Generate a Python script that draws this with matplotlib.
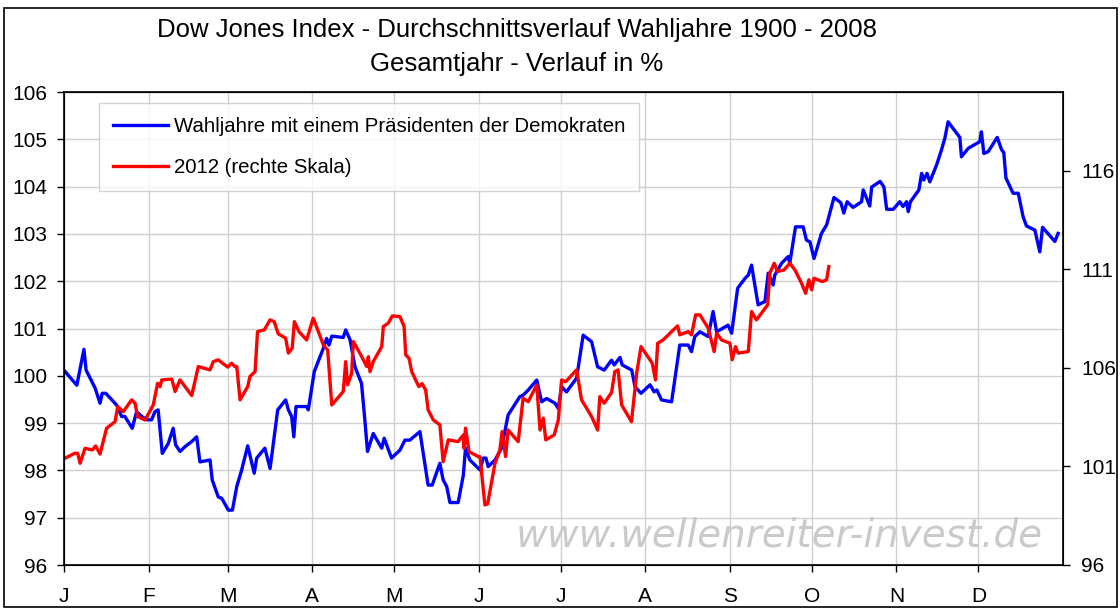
"""
Dow Jones Wahljahre - Durchschnittsverlauf vs. 2012
"""

import matplotlib
matplotlib.use("Agg")
import matplotlib.pyplot as plt
from matplotlib.patches import Rectangle

matplotlib.rcParams['font.family'] = ['Liberation Sans', 'DejaVu Sans']

# Tag im Jahr (Schaltjahr) und Wert in %
blue_days = [0.4, 4.7, 7.3, 8.1, 11.4, 13.2, 14.0, 15.3, 19.3, 21.1, 22.3, 25.0, 26.6, 28.5,
             30.3, 32.1, 33.3, 34.5, 36.0, 38.2, 40.0, 40.9, 42.5, 44.3, 46.8, 48.6, 49.8,
             53.5, 54.3, 56.5, 57.8, 60.2, 61.7, 63.3, 65.1, 67.3, 69.7, 70.6, 73.6, 75.5,
             78.3, 81.2, 82.2, 83.4, 84.2, 85.0, 88.9, 89.5, 91.7, 95.0, 96.2, 97.1, 98.1,
             102.3, 103.2, 104.8, 106.6, 109.0, 110.0, 111.2, 113.3, 116.4, 117.3, 120.0,
             123.1, 124.9, 126.7, 130.4, 133.4, 134.9, 137.7, 138.9, 140.2, 141.4, 144.4,
             146.3, 147.1, 148.7, 152.4, 153.6, 154.6, 155.4, 157.9, 160.3, 162.7, 167.0,
             168.2, 170.1, 173.2, 175.0, 176.8, 179.9, 181.1, 182.3, 184.1, 187.8, 190.2,
             193.3, 195.5, 197.9, 200.6, 201.6, 203.7, 204.5, 208.0, 209.2, 211.4, 214.7,
             216.2, 217.2, 218.9, 222.6, 225.6, 228.7, 229.9, 231.1, 233.0, 236.0, 237.8,
             239.1, 243.3, 244.6, 246.8, 249.5, 250.7, 251.9, 254.3, 256.8, 258.0, 259.8,
             260.4, 262.9, 265.3, 265.9, 268.0, 270.8, 272.0, 273.3, 274.8, 277.5, 279.4,
             282.1, 284.6, 285.7, 286.9, 289.1, 292.2, 292.8, 295.2, 295.9, 299.0, 300.4,
             301.4, 303.8, 306.2, 307.4, 308.7, 309.3, 310.1, 312.3, 313.2, 314.2, 315.0,
             316.2, 317.2, 319.7, 321.5, 322.7, 323.9, 328.2, 328.8, 331.3, 335.5, 336.1,
             337.0, 338.6, 341.9, 343.5, 344.3, 345.1, 347.7, 349.6, 351.4, 352.6, 355.7,
             357.5, 358.5, 363.0, 364.2]
blue_vals = [100.09, 99.80, 100.56, 100.12, 99.74, 99.42, 99.63, 99.63, 99.38, 99.14, 99.14,
             98.89, 99.24, 99.14, 99.07, 99.07, 99.24, 99.28, 98.36, 98.57, 98.89, 98.54,
             98.40, 98.50, 98.61, 98.71, 98.18, 98.22, 97.80, 97.44, 97.41, 97.16, 97.16,
             97.66, 98.01, 98.52, 97.94, 98.26, 98.47, 98.04, 99.28, 99.49, 99.28, 99.14,
             98.71, 99.35, 99.35, 99.28, 100.09, 100.58, 100.79, 100.65, 100.84, 100.81,
             100.97, 100.76, 100.19, 99.84, 99.21, 98.40, 98.78, 98.47, 98.68, 98.26, 98.43,
             98.64, 98.64, 98.82, 97.69, 97.69, 98.15, 97.80, 97.66, 97.32, 97.32, 97.90,
             98.47, 98.22, 98.01, 98.26, 98.26, 98.08, 98.22, 98.47, 99.17, 99.56, 99.59,
             99.70, 99.91, 99.45, 99.52, 99.42, 99.31, 99.77, 99.66, 99.95, 100.86, 100.72,
             100.19, 100.12, 100.33, 100.23, 100.39, 100.23, 100.12, 99.77, 99.63, 99.81,
             99.66, 99.70, 99.49, 99.45, 100.65, 100.65, 100.51, 100.83, 100.93, 100.83,
             101.36, 100.93, 101.07, 100.90, 101.85, 102.06, 102.13, 102.34, 101.50, 101.57,
             102.17, 101.92, 102.13, 102.38, 102.52, 102.38, 103.15, 103.15, 102.87, 102.83,
             102.48, 103.01, 103.19, 103.77, 103.66, 103.44, 103.68, 103.56, 103.68, 103.93,
             103.59, 103.99, 104.11, 103.99, 103.52, 103.52, 103.68, 103.58, 103.68, 103.47,
             103.68, 103.86, 103.93, 104.28, 104.14, 104.28, 104.10, 104.46, 104.78, 105.02,
             105.37, 105.04, 104.63, 104.81, 104.95, 105.16, 104.70, 104.74, 105.04, 104.78,
             104.72, 104.18, 103.86, 103.86, 103.36, 103.17, 103.08, 102.62, 103.14, 102.84,
             103.01]

red_days = [0.4, 4.0, 5.0, 5.9, 7.7, 10.4, 11.6, 13.2, 15.6, 18.7, 19.7, 21.7, 24.8, 26.0,
            27.0, 29.7, 32.7, 34.3, 35.2, 35.8, 39.5, 40.7, 42.5, 46.8, 49.2, 53.5, 54.7,
            56.5, 60.0, 61.4, 62.6, 63.3, 64.5, 67.3, 68.1, 70.0, 70.9, 73.4, 75.5, 77.0,
            78.5, 81.2, 82.2, 83.6, 84.4, 86.1, 88.9, 91.3, 93.2, 95.0, 96.6, 98.1, 102.3,
            103.2, 103.9, 105.4, 106.0, 108.4, 110.9, 111.5, 112.1, 113.3, 116.4, 117.0,
            118.8, 120.3, 123.1, 124.6, 125.2, 126.4, 127.4, 130.0, 131.2, 132.5, 133.4,
            135.3, 137.7, 138.9, 140.8, 144.4, 146.3, 146.6, 147.1, 148.4, 151.8, 152.4,
            154.2, 155.2, 157.9, 159.7, 160.5, 161.8, 162.7, 166.4, 168.2, 170.1, 173.2,
            174.4, 175.6, 176.5, 179.6, 181.1, 182.3, 183.8, 187.8, 189.6, 193.3, 195.5,
            196.3, 197.9, 200.6, 201.8, 203.0, 204.3, 207.9, 209.8, 211.4, 215.5, 216.7,
            217.5, 219.5, 222.6, 224.8, 225.6, 228.7, 229.9, 231.4, 233.0, 236.0, 238.2,
            239.1, 240.9, 244.0, 244.8, 246.0, 247.0, 250.7, 251.9, 253.7, 257.8, 258.6,
            260.2, 261.4, 263.8, 265.9, 267.8, 270.2, 271.7, 272.9, 273.9, 274.8, 277.8,
            279.4, 280.2]
red_vals = [101.42, 101.67, 101.67, 101.16, 101.92, 101.84, 102.04, 101.63, 102.94, 103.27,
            104.04, 103.78, 104.38, 104.21, 103.53, 103.36, 104.12, 105.22, 105.05, 105.39,
            105.43, 104.80, 105.39, 104.60, 106.07, 105.90, 106.32, 106.41, 106.04, 106.24,
            106.07, 106.07, 104.38, 105.05, 105.56, 105.81, 107.84, 107.93, 108.44, 108.35,
            107.73, 107.51, 106.75, 107.00, 108.35, 107.84, 107.42, 108.52, 107.84, 107.17,
            106.91, 104.12, 104.80, 106.32, 105.14, 105.73, 107.34, 106.75, 106.07, 106.57,
            105.81, 106.32, 107.08, 108.10, 108.27, 108.64, 108.60, 108.10, 106.66, 106.49,
            105.81, 105.05, 105.20, 104.88, 103.87, 103.36, 103.11, 101.24, 102.35, 102.26,
            102.60, 101.92, 102.94, 101.75, 101.50, 101.50, 99.05, 99.10, 101.16, 101.84,
            102.77, 101.50, 102.85, 102.26, 104.46, 104.29, 105.14, 102.85, 103.45, 102.35,
            102.60, 103.36, 105.39, 105.30, 105.90, 104.38, 103.53, 102.85, 104.54, 104.21,
            104.75, 105.81, 105.90, 104.12, 103.27, 105.73, 107.08, 106.24, 105.39, 107.25,
            107.42, 107.84, 108.13, 107.68, 107.84, 107.68, 108.69, 108.69, 108.02, 106.83,
            107.76, 107.42, 107.25, 106.41, 107.08, 106.75, 106.83, 108.86, 108.44, 109.20,
            110.81, 111.31, 110.89, 110.97, 111.31, 110.97, 110.30, 109.79, 110.47, 109.96,
            110.55, 110.38, 110.47, 111.14]

month_starts = [0, 31, 60, 91, 121, 152, 182, 213, 244, 274, 305, 335]
month_labels = ['J', 'F', 'M', 'A', 'M', 'J', 'J', 'A', 'S', 'O', 'N', 'D']
left_ticks = list(range(96, 107))
right_ticks = [96, 101, 106, 111, 116]

title = 'Dow Jones Index - Durchschnittsverlauf Wahljahre 1900 - 2008\nGesamtjahr - Verlauf in %'
label_blue = 'Wahljahre mit einem Präsidenten der Demokraten'
label_red = '2012 (rechte Skala)'

fig = plt.figure(figsize=(11.2, 6.08), dpi=100)
ax = fig.add_axes([64 / 1120, 43 / 608, 999 / 1120, 473 / 608])

ax.set_xlim(0, 366)
ax.set_ylim(96, 106)
ax.set_yticks(left_ticks)
ax.set_xticks(month_starts)
ax.set_xticklabels(month_labels)
ax.grid(True, color='#d0d0d0', linewidth=1.0)
ax.set_axisbelow(True)
ax.tick_params(axis='y', direction='out', length=5, width=1, labelsize=15, pad=7)
ax.tick_params(axis='x', direction='out', length=5, width=1, labelsize=15, pad=11)
for s in ax.spines.values():
    s.set_linewidth(1.2)

l1, = ax.plot(blue_days, blue_vals, color='#0000ff', linewidth=2.4, label=label_blue)

ax2 = ax.twinx()
ax2.set_ylim(96, 120)
ax2.set_yticks(right_ticks)
ax2.tick_params(axis='y', direction='out', length=5, width=1, labelsize=15, pad=8)
l2, = ax2.plot(red_days, red_vals, color='#ff0000', linewidth=2.4, label=label_red)

ax.text(0.98, 0.062, 'www.wellenreiter-invest.de', transform=ax.transAxes,
        ha='right', va='center', fontsize=28, style='italic', color='#cacaca',
        family=['DejaVu Sans'])

leg = ax2.legend(handles=[l1, l2], loc='upper left', bbox_to_anchor=(35 / 999, 1 - 11 / 473),
                 fontsize=14.7, frameon=True, fancybox=False, edgecolor='#c8c8c8',
                 handlelength=2.7, handletextpad=0.25, borderpad=0.7, labelspacing=1.05,
                 borderaxespad=0)
leg.get_frame().set_linewidth(1.0)

fig.text(517 / 1120, 1 - 47 / 608, title, ha='center', va='center', fontsize=18.5,
         linespacing=1.5)

fig.patches.append(Rectangle((4 / 1120, 1 / 608), 1113 / 1120, 599 / 608,
                             transform=fig.transFigure, fill=False, edgecolor='black',
                             linewidth=1.2))

fig.savefig('out.png', dpi=100)
